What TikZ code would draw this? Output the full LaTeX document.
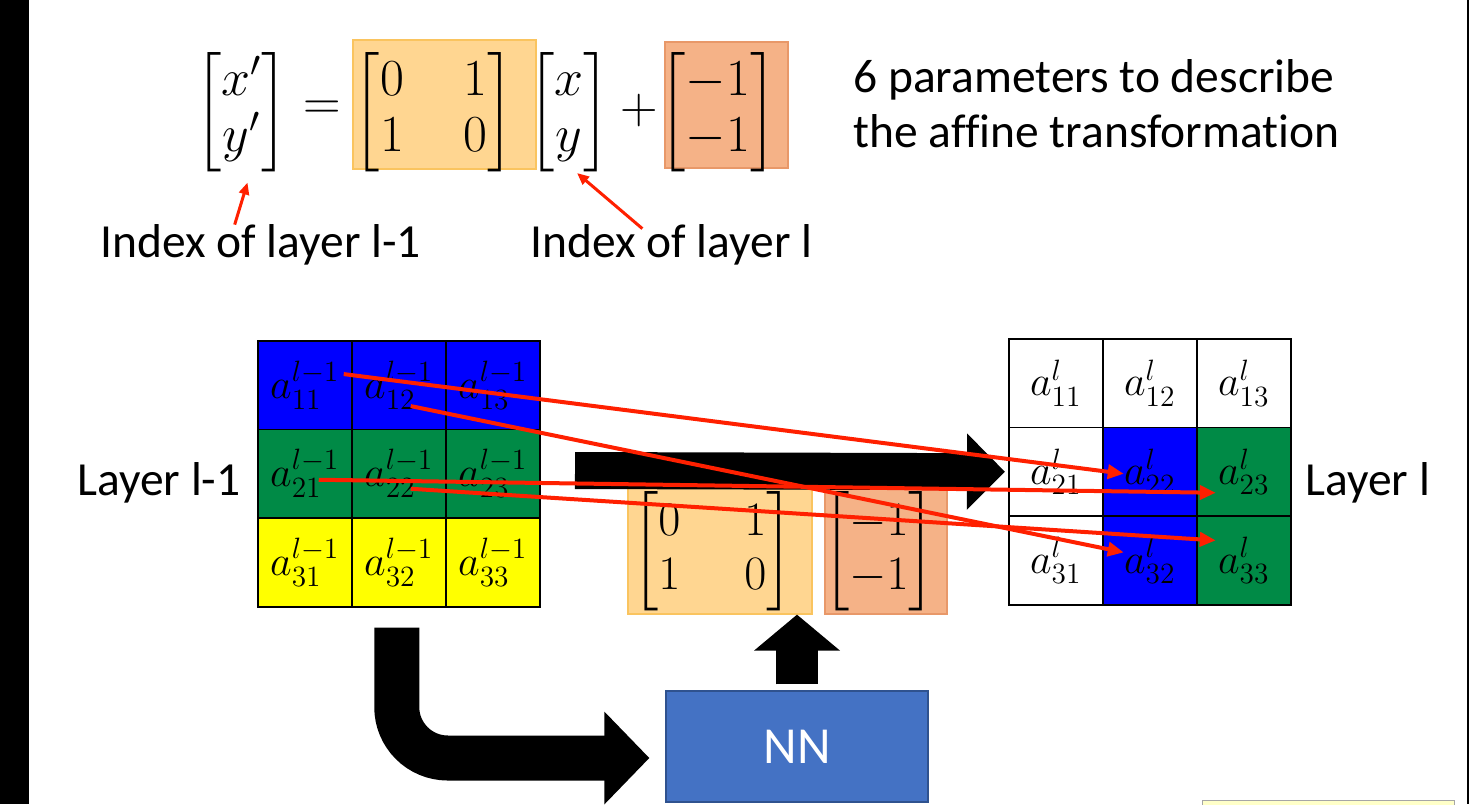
\RequirePackage{fix-cm}
\documentclass[tikz,border=0pt]{standalone}
\usepackage{amsmath}
\usepackage[no-math]{fontspec}
\setmainfont{Carlito}[Ligatures=NoCommon]
\usetikzlibrary{arrows.meta, positioning, calc}

\definecolor{cellblue}{RGB}{0,0,255}
\definecolor{cellgreen}{RGB}{0,138,70}
\definecolor{cellyellow}{RGB}{255,255,0}
\definecolor{goldfill}{RGB}{255,214,145}
\definecolor{goldline}{RGB}{250,196,95}
\definecolor{salmonfill}{RGB}{245,178,135}
\definecolor{salmonline}{RGB}{232,152,105}
\definecolor{nnblue}{RGB}{68,114,196}
\definecolor{nnline}{RGB}{47,82,143}
\definecolor{arrowred}{RGB}{255,32,0}
\definecolor{notefill}{RGB}{255,255,200}

\begin{document}
\begin{tikzpicture}[x=0.5pt, y=-0.5pt,
  every node/.style={font=\fontsize{23.75}{28.5}\selectfont},
  eqn/.style={inner sep=0pt, font=\fontsize{26}{28}\selectfont},
  smalleqn/.style={inner sep=0pt, font=\fontsize{24}{27}\selectfont},
  cell/.style={draw=black, line width=0.75pt, minimum width=47pt,
    minimum height=44.33pt, inner sep=0pt, anchor=north west,
    font=\fontsize{21}{23}\selectfont},
  goldbox/.style={fill=goldfill, draw=goldline, line width=0.6pt},
  salmonbox/.style={fill=salmonfill, draw=salmonline, line width=0.6pt},
  thinred/.style={draw=arrowred, line width=1.5pt,
    -{Triangle[length=6pt,width=5pt]}},
  redarrow/.style={draw=arrowred, line width=2pt,
    -{Triangle[length=8pt,width=7pt]}}]
\useasboundingbox (0,0) rectangle (1470,804);
\fill[white] (0,0) rectangle (1470,804);
\fill[black] (0,0) rectangle (29,804);
\draw[line width=1pt] (1468,0) -- (1468,804);
\draw[draw=gray!70, fill=notefill] (1202,800) rectangle (1454,830);

% Affine transformation
\node[eqn] (lhs) at (241.5,112.5) {$\begin{bmatrix} x' \\ y' \end{bmatrix}$};
\node[eqn] (equal) at (322,110) {$=$};
\node[goldbox, minimum width=91.5pt, minimum height=64.5pt] (wbox) at (444.5,104.5) {};
\node[eqn] (wmatrix) at (434,112.5)
  {$\begin{bmatrix} 0 & \hspace{20pt}1 \\ 1 & \hspace{20pt}0 \end{bmatrix}$};
\node[eqn] (xy) at (569,112.5) {$\begin{bmatrix} x \\ y \end{bmatrix}$};
\node[eqn] (plus) at (639.5,110) {$+$};
\node[salmonbox, minimum width=61.5pt, minimum height=63pt] (tbox) at (726.5,105) {};
\node[eqn] (tvector) at (718,112.5) {$\begin{bmatrix} -1 \\ -1 \end{bmatrix}$};
\node[anchor=north west, align=left, inner sep=0pt,
      font=\fontsize{23.75}{27.5}\selectfont] (params) at (853,59)
  {6 parameters to describe\\the affine transformation};

% Index labels
\node[anchor=base west, inner sep=0pt] (idxprev) at (100,257) {Index of layer l-1};
\node[anchor=base west, inner sep=0pt] (idxcur) at (530,257) {Index of layer l};
\draw[thinred] ([shift={(-26,1)}]idxprev.north) -- ([shift={(6,70)}]lhs.center);
\draw[thinred] ([shift={(-29,5)}]idxcur.north) -- ([shift={(8,60.5)}]xy.center);

% Layer l-1 grid
\node[cell, fill=cellblue] (p11) at (257,340) {$a_{11}^{l-1}$};
\node[cell, fill=cellblue] (p12) at (351,340) {$a_{12}^{l-1}$};
\node[cell, fill=cellblue] (p13) at (445,340) {$a_{13}^{l-1}$};
\node[cell, fill=cellgreen] (p21) at (257,428.67) {$a_{21}^{l-1}$};
\node[cell, fill=cellgreen] (p22) at (351,428.67) {$a_{22}^{l-1}$};
\node[cell, fill=cellgreen] (p23) at (445,428.67) {$a_{23}^{l-1}$};
\node[cell, fill=cellyellow] (p31) at (257,517.33) {$a_{31}^{l-1}$};
\node[cell, fill=cellyellow] (p32) at (351,517.33) {$a_{32}^{l-1}$};
\node[cell, fill=cellyellow] (p33) at (445,517.33) {$a_{33}^{l-1}$};
\node[anchor=base west, inner sep=0pt] (prevlabel) at (77,495) {Layer l-1};

% Layer l grid
\node[cell, fill=white] (q11) at (1008,338) {$a_{11}^{l}$};
\node[cell, fill=white] (q12) at (1102,338) {$a_{12}^{l}$};
\node[cell, fill=white] (q13) at (1196,338) {$a_{13}^{l}$};
\node[cell, fill=white] (q21) at (1008,426.67) {$a_{21}^{l}$};
\node[cell, fill=cellblue] (q22) at (1102,426.67) {$a_{22}^{l}$};
\node[cell, fill=cellgreen] (q23) at (1196,426.67) {$a_{23}^{l}$};
\node[cell, fill=white] (q31) at (1008,515.33) {$a_{31}^{l}$};
\node[cell, fill=cellblue] (q32) at (1102,515.33) {$a_{32}^{l}$};
\node[cell, fill=cellgreen] (q33) at (1196,515.33) {$a_{33}^{l}$};
\node[anchor=base west, inner sep=0pt] (curlabel) at (1305,495) {Layer l};

% Parameters from the network
\node[goldbox, minimum width=92pt, minimum height=63.5pt] (abox) at (720,550.5) {};
\node[smalleqn] (amatrix) at (712.5,551.5)
  {$\begin{bmatrix} 0 & \hspace{22pt}1 \\ 1 & \hspace{22pt}0 \end{bmatrix}$};
\node[salmonbox, minimum width=61pt, minimum height=63.5pt] (bbox) at (886,550.5) {};
\node[smalleqn] (bvector) at (879,551.5) {$\begin{bmatrix} -1 \\ -1 \end{bmatrix}$};

% Big black arrow
\coordinate (barstart) at (575,470.5);
\draw[line width=18.5pt, -{Triangle[length=19pt,width=37pt]}, shorten >=1.5pt]
  (barstart) -- (q21.west);

% Red index arrows
\draw[redarrow] ([shift={(39,-11)}]p11.center) -- ([shift={(-26,2)}]q22.center);
\draw[redarrow] ([shift={(12,21)}]p12.center) -- ([shift={(-26,-8)}]q32.center);
\draw[redarrow] ([shift={(14,6)}]p21.center) -- ([shift={(-28,21)}]q23.center);
\draw[redarrow] ([shift={(12,15)}]p22.center) -- ([shift={(-28,-20)}]q33.center);

% Network box
\node[fill=nnblue, draw=nnline, line width=0.6pt, text=white,
      minimum width=131pt, minimum height=55.5pt,
      font=\fontsize{26}{30}\selectfont] (nn) at (797,746.5) {NN};
\draw[line width=21pt, -{Triangle[length=18pt,width=42pt]}]
  ([shift={(0,-6)}]nn.north) -- (nn.north |- abox.south);
\draw[line width=22.5pt, rounded corners=25.5pt,
      -{Triangle[length=22.5pt,width=45pt]}]
  ([shift={(-2,20)}]p32.south) |- ([shift={(-16,11.5)}]nn.west);
\end{tikzpicture}
\end{document}
